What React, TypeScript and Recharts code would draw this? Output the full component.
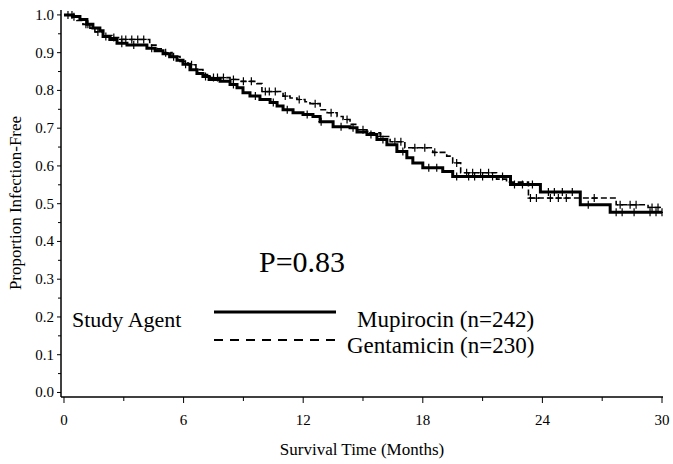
import React from 'react';
import { ComposedChart, Line, Scatter, XAxis, YAxis, Customized } from 'recharts';

// Kaplan-Meier steps (months, proportion infection-free)
const mupTimes = [0, 0.45, 0.8, 1.15, 1.45, 1.8, 1.96, 2.3, 2.66, 3.16, 4.16, 4.57, 4.97, 5.3, 5.67, 5.97, 6.32, 6.67, 6.97, 7.28, 7.83, 8.33, 8.68, 8.98, 9.33, 9.83, 10.34, 10.69, 10.99, 11.49, 11.99, 12.49, 12.85, 13.5, 14.35, 14.7, 15.2, 15.7, 16.2, 16.7, 17.2, 17.5, 18.0, 19.0, 19.5, 22.4, 23.9, 25.9, 27.4, 30];
const mupSurv = [1.0, 0.996, 0.988, 0.975, 0.965, 0.958, 0.943, 0.935, 0.925, 0.92, 0.912, 0.905, 0.897, 0.889, 0.88, 0.869, 0.855, 0.845, 0.837, 0.829, 0.824, 0.816, 0.807, 0.794, 0.785, 0.776, 0.768, 0.759, 0.749, 0.741, 0.736, 0.731, 0.717, 0.704, 0.701, 0.69, 0.683, 0.67, 0.656, 0.638, 0.622, 0.608, 0.595, 0.585, 0.572, 0.551, 0.531, 0.497, 0.477, 0.477];

const genTimes = [0, 0.3, 0.65, 0.95, 1.3, 1.55, 1.96, 2.4, 2.8, 4.3, 4.67, 4.97, 5.42, 5.82, 6.22, 6.62, 6.97, 7.33, 8.33, 8.83, 9.68, 9.93, 10.99, 11.34, 11.69, 12.09, 12.34, 12.85, 13.2, 13.7, 14.0, 14.35, 14.7, 15.2, 15.86, 16.36, 17.1, 18.5, 19.2, 19.5, 19.9, 21.7, 22.2, 23.3, 27.7, 29.3, 30];
const genSurv = [1.0, 0.995, 0.985, 0.975, 0.965, 0.955, 0.945, 0.94, 0.935, 0.92, 0.91, 0.9, 0.89, 0.877, 0.868, 0.855, 0.842, 0.834, 0.829, 0.824, 0.818, 0.797, 0.785, 0.78, 0.776, 0.77, 0.765, 0.749, 0.741, 0.731, 0.723, 0.71, 0.696, 0.688, 0.678, 0.664, 0.648, 0.636, 0.626, 0.608, 0.582, 0.565, 0.557, 0.515, 0.497, 0.49, 0.49];

// censored observations (months)
const mupCensor = [0.4, 1.2, 2.1, 2.9, 3.5, 4.4, 5.5, 6.1, 7.1, 8.5, 9.6, 10.5, 11.2, 12.2, 12.9, 13.9, 14.5, 15.4, 16.0, 17.0, 18.3, 18.7, 19.7, 20.3, 20.6, 21.0, 21.5, 22.0, 22.6, 23.0, 23.5, 24.3, 24.6, 25.0, 25.5, 26.3, 27.7, 28.0, 28.6, 29.4, 29.7, 30.0];
const genCensor = [0.2, 0.5, 1.1, 1.7, 2.5, 2.9, 3.1, 3.4, 3.7, 4.0, 5.1, 6.4, 7.5, 7.7, 8.0, 8.5, 9.0, 9.4, 10.1, 10.3, 10.6, 11.1, 11.8, 12.6, 13.4, 14.2, 15.0, 15.9, 16.6, 16.9, 17.6, 18.1, 18.6, 19.7, 20.2, 20.5, 20.9, 21.3, 23.4, 23.7, 24.4, 24.8, 25.2, 26.6, 27.9, 28.4, 28.7, 29.5, 29.8];

const xTicks = [0, 3, 6, 9, 12, 15, 18, 21, 24, 27, 30];
const xLabels = [0, 6, 12, 18, 24, 30];
const yTicks = [0, 0.05, 0.1, 0.15, 0.2, 0.25, 0.3, 0.35, 0.4, 0.45, 0.5, 0.55, 0.6, 0.65, 0.7, 0.75, 0.8, 0.85, 0.9, 0.95, 1.0];

const FONT = "'Liberation Serif', 'Times New Roman', serif";

const toRows = (times: number[], surv: number[]) => times.map((t, i) => ({ t, s: surv[i] }));

const survAt = (times: number[], surv: number[], t: number) => {
  let v = surv[0];
  for (let i = 0; i < times.length; i++) {
    if (times[i] <= t) v = surv[i];
  }
  return v;
};

const mupData = toRows(mupTimes, mupSurv);
const genData = toRows(genTimes, genSurv);
const mupMarks = mupCensor.map((t) => ({ t, s: survAt(mupTimes, mupSurv, t) }));
const genMarks = genCensor.map((t) => ({ t, s: survAt(genTimes, genSurv, t) }));

const Plus = (props: any) => {
  const { cx, cy } = props;
  if (cx == null || cy == null) return null;
  return (
    <path
      d={`M${cx - 3},${cy}H${cx + 3}M${cx},${cy - 4}V${cy + 4}`}
      stroke="#000"
      strokeWidth={1.2}
      fill="none"
    />
  );
};

const XTick = (props: any) => {
  const { x, y, payload } = props;
  const major = xLabels.includes(payload.value);
  return (
    <g>
      <line x1={x} x2={x} y1={y} y2={y + (major ? 6 : 4)} stroke="#000" strokeWidth={1} />
      {major && (
        <text x={x} y={y + 28} textAnchor="middle" style={{ fontFamily: FONT, fontSize: 15 }} fill="#000">
          {payload.value}
        </text>
      )}
    </g>
  );
};

const YTick = (props: any) => {
  const { x, y, payload } = props;
  const v = payload.value;
  const major = Math.abs(v * 10 - Math.round(v * 10)) < 1e-6;
  return (
    <g>
      <line x1={x - (major ? 4 : 3)} x2={x} y1={y} y2={y} stroke="#000" strokeWidth={1} />
      {major && (
        <text x={x - 7} y={y + 5} textAnchor="end" style={{ fontFamily: FONT, fontSize: 15 }} fill="#000">
          {v.toFixed(1)}
        </text>
      )}
    </g>
  );
};

const txt = (size: number) => ({ fontFamily: FONT, fontSize: size });

const Annotations = () => (
  <g fill="#000">
    <text x={362} y={455} textAnchor="middle" style={txt(17)}>Survival Time (Months)</text>
    <text x={21} y={203} textAnchor="middle" style={txt(17)} transform="rotate(-90 21 203)">
      Proportion Infection-Free
    </text>
    <text x={259} y={272} style={txt(30)}>P=0.83</text>
    <text x={72} y={327} style={txt(22)}>Study Agent</text>
    <line x1={214} x2={336} y1={312} y2={312} stroke="#000" strokeWidth={3} />
    <line x1={214} x2={336} y1={340} y2={340} stroke="#000" strokeWidth={2} strokeDasharray="9 7" />
    <text x={357} y={327} style={txt(23)}>Mupirocin (n=242)</text>
    <text x={347} y={353} style={txt(23)}>Gentamicin (n=230)</text>
  </g>
);

export default function App() {
  return (
    <div style={{ position: 'absolute', left: 0, top: 0, background: '#fff' }}>
      <ComposedChart width={673} height={464} margin={{ top: 10, right: 10, bottom: 0, left: 0 }}>
        <XAxis
          xAxisId="b"
          type="number"
          dataKey="t"
          domain={[-0.15, 30.05]}
          allowDataOverflow
          ticks={xTicks}
          interval={0}
          tick={<XTick />}
          tickLine={false}
          tickSize={0}
          tickMargin={0}
          axisLine={{ stroke: '#000', strokeWidth: 1.5 }}
          height={67}
        />
        <XAxis
          xAxisId="top"
          orientation="top"
          type="number"
          dataKey="t"
          domain={[-0.15, 30.05]}
          allowDataOverflow
          tick={false}
          tickLine={false}
          axisLine={{ stroke: '#555', strokeWidth: 1 }}
          height={0}
        />
        <YAxis
          yAxisId="l"
          type="number"
          domain={[-0.012, 1.013]}
          allowDataOverflow
          ticks={yTicks}
          interval={0}
          tick={<YTick />}
          tickLine={false}
          tickSize={0}
          tickMargin={0}
          axisLine={{ stroke: '#000', strokeWidth: 1.5 }}
          width={61}
        />
        <YAxis
          yAxisId="r"
          orientation="right"
          type="number"
          domain={[-0.012, 1.013]}
          allowDataOverflow
          tick={false}
          tickLine={false}
          axisLine={{ stroke: '#222', strokeWidth: 1.2 }}
          width={0}
        />
        <Line
          xAxisId="b"
          yAxisId="l"
          data={genData}
          dataKey="s"
          type="stepAfter"
          stroke="#000"
          strokeWidth={1.6}
          strokeDasharray="6 3"
          dot={false}
          isAnimationActive={false}
        />
        <Line
          xAxisId="b"
          yAxisId="l"
          data={mupData}
          dataKey="s"
          type="stepAfter"
          stroke="#000"
          strokeWidth={3}
          dot={false}
          isAnimationActive={false}
        />
        <Scatter xAxisId="b" yAxisId="l" data={genMarks} dataKey="s" shape={<Plus />} isAnimationActive={false} />
        <Scatter xAxisId="b" yAxisId="l" data={mupMarks} dataKey="s" shape={<Plus />} isAnimationActive={false} />
        <Customized component={Annotations} />
      </ComposedChart>
    </div>
  );
}
